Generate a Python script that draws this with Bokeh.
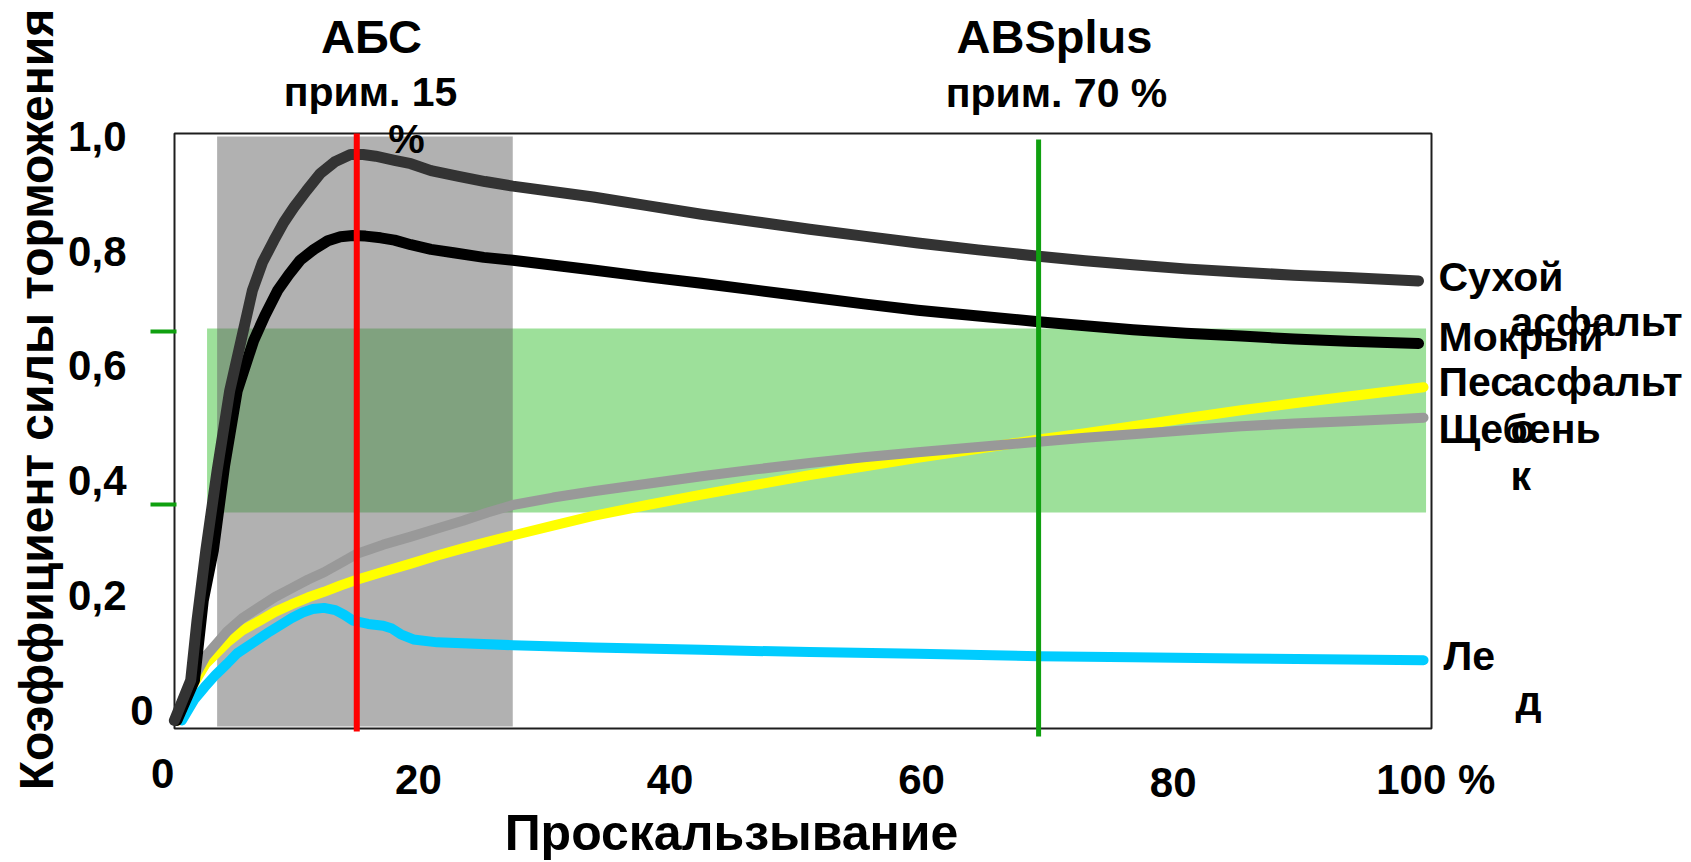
import math
from bokeh.plotting import figure
from bokeh.models import Range1d, Label
from bokeh.embed import file_html
from bokeh.resources import INLINE

# ---------------- data (slip in %, braking-force coefficient) ----------------
dry_x = [0.6, 1.9, 2.4, 3.1, 4.0, 5.0, 5.9, 6.8, 7.6, 8.5, 9.3, 10.1, 11.1, 12.2, 13.4,
         14.6, 15.6, 16.6, 18.1, 19.4, 21.0, 23.2, 25.3, 27.5, 33.9, 38.2, 42.5, 46.8,
         51.1, 55.4, 59.7, 64.5, 69.3, 73.0, 76.8, 81.0, 85.4, 89.6, 93.9, 99.5]
dry_y = [0.0, 0.070, 0.174, 0.296, 0.435, 0.574, 0.661, 0.748, 0.797, 0.835, 0.867, 0.893,
         0.922, 0.952, 0.973, 0.985, 0.985, 0.982, 0.975, 0.969, 0.957, 0.947, 0.938, 0.930,
         0.911, 0.896, 0.881, 0.868, 0.855, 0.843, 0.831, 0.819, 0.808, 0.800, 0.793, 0.786,
         0.780, 0.775, 0.771, 0.765]

wet_x = [0.8, 2.2, 2.9, 3.7, 4.6, 5.6, 6.9, 7.8, 8.8, 9.7, 10.6, 11.7, 12.8, 13.8, 14.8,
         15.8, 17.0, 18.1, 19.4, 21.0, 22.8, 25.2, 27.5, 33.9, 38.2, 42.5, 46.8, 51.1,
         55.4, 59.7, 64.5, 69.3, 73.0, 76.8, 81.0, 85.4, 89.6, 93.9, 99.5]
wet_y = [0.0, 0.070, 0.209, 0.296, 0.444, 0.574, 0.661, 0.705, 0.748, 0.776, 0.801, 0.820,
         0.835, 0.842, 0.844, 0.843, 0.840, 0.836, 0.828, 0.820, 0.814, 0.806, 0.801, 0.784,
         0.772, 0.761, 0.749, 0.737, 0.725, 0.714, 0.704, 0.694, 0.687, 0.680, 0.674, 0.669,
         0.664, 0.660, 0.656]

sand_x = [0.9, 1.8, 3.1, 4.8, 6.0, 7.4, 8.6, 9.9, 11.2, 12.5, 13.8, 15.1, 17.2, 19.4, 21.5,
          23.6, 25.5, 27.5, 30.7, 33.9, 38.2, 42.5, 46.8, 51.1, 55.4, 59.7, 64.5, 69.3,
          73.0, 76.8, 81.0, 85.4, 89.6, 93.9, 99.9]
sand_y = [0.0, 0.052, 0.099, 0.136, 0.157, 0.174, 0.189, 0.202, 0.214, 0.224, 0.235, 0.245,
          0.259, 0.273, 0.287, 0.300, 0.311, 0.322, 0.339, 0.356, 0.375, 0.393, 0.410, 0.427,
          0.442, 0.457, 0.473, 0.489, 0.500, 0.512, 0.526, 0.540, 0.552, 0.564, 0.580]

gravel_x = [0.8, 1.8, 3.1, 4.8, 6.0, 7.4, 8.6, 9.9, 11.2, 12.5, 13.8, 15.1, 17.2, 19.4,
            21.5, 23.6, 25.5, 27.5, 30.7, 33.9, 38.2, 42.5, 46.8, 51.1, 55.4, 59.7, 64.5,
            69.3, 73.0, 76.8, 81.0, 85.4, 89.6, 93.9, 99.9]
gravel_y = [0.0, 0.061, 0.112, 0.155, 0.178, 0.198, 0.215, 0.230, 0.245, 0.258, 0.274,
            0.290, 0.306, 0.320, 0.334, 0.348, 0.362, 0.375, 0.388, 0.399, 0.412, 0.425,
            0.437, 0.448, 0.458, 0.467, 0.476, 0.485, 0.492, 0.498, 0.505, 0.512, 0.517,
            0.521, 0.527]

ice_x = [1.2, 2.2, 3.0, 3.9, 4.8, 5.6, 6.9, 8.2, 9.1, 9.9, 10.8, 11.6, 12.5, 13.4, 14.1,
         14.8, 16.0, 17.2, 17.9, 18.6, 19.6, 21.5, 27.5, 33.9, 42.5, 51.1, 59.7, 69.3, 76.8,
         85.4, 93.9, 99.9]
ice_y = [0.0, 0.037, 0.058, 0.080, 0.099, 0.117, 0.136, 0.155, 0.167, 0.178, 0.188, 0.194,
         0.196, 0.192, 0.184, 0.174, 0.168, 0.165, 0.160, 0.150, 0.141, 0.136, 0.131, 0.127,
         0.123, 0.119, 0.116, 0.112, 0.110, 0.108, 0.106, 0.105]

abs_slip = 15.1            # ABS, approx. 15 %
absplus_slip = 69.3        # ABSplus, approx. 70 %
abs_zone_slip = [4.0, 27.5]          # grey ABS working range
band_slip = [3.2, 100.1]             # green band
band_mu = [0.362, 0.682]
band_marks_mu = [0.376, 0.677]

x_tick_values = [0, 20, 40, 60, 80, 100]
x_tick_labels = ["0", "20", "40", "60", "80", "100 %"]
y_tick_values = [0, 0.2, 0.4, 0.6, 0.8, 1.0]
y_tick_labels = ["0", "0,2", "0,4", "0,6", "0,8", "1,0"]

# ---------------- layout (pixels of the 1691x862 picture) ----------------
W, H = 1691, 862
PX_X0, PX_PER_X = 166.3, 12.58     # pixel column of 0 %, pixels per 1 %
PX_Y0, PX_PER_Y = 720.0, 574.6     # pixel row of coefficient 0, pixels per 1.0
FRAME = dict(left=174, right=1431, top=133, bottom=728)
FONT = "Liberation Sans"
BASE_FIX = 0.4                     # Bokeh draws alphabetic labels ~0.4 em low


def xr(px):
    return (px - PX_X0) / PX_PER_X


def yr(py):
    return (PX_Y0 - py) / PX_PER_Y


p = figure(width=W, height=H,
           x_range=Range1d(xr(0), xr(W)), y_range=Range1d(yr(H), yr(0)),
           output_backend="svg", toolbar_location=None,
           x_axis_location=None, y_axis_location=None, min_border=0)
p.grid.visible = False
p.outline_line_color = None
p.background_fill_color = "white"
p.border_fill_color = "white"
p.extra_x_ranges = {"px": Range1d(0, W)}
p.extra_y_ranges = {"px": Range1d(H, 0)}

# green band and grey ABS zone
p.quad(left=band_slip[0], right=band_slip[1], bottom=band_mu[0], top=band_mu[1],
       fill_color="#9DE09A", line_color=None)
p.quad(left=abs_zone_slip[0], right=abs_zone_slip[1], top=136, bottom=726,
       y_range_name="px", fill_color="#646464", fill_alpha=0.5, line_color=None)

# frame
p.quad(left=FRAME["left"], right=FRAME["right"], top=FRAME["top"], bottom=FRAME["bottom"],
       x_range_name="px", y_range_name="px", fill_color=None,
       line_color="#1e1e1e", line_width=2)

# green markers of the band on the left
p.segment(x0=[150] * 2, x1=[FRAME["left"] + 2] * 2, y0=band_marks_mu, y1=band_marks_mu,
          x_range_name="px", line_color="#0FA00F", line_width=4)

# curves
style = dict(line_cap="round", line_join="round")
p.line(sand_x, sand_y, line_color="#FFFF00", line_width=10, **style)
p.line(gravel_x, gravel_y, line_color="#999999", line_width=10, **style)
p.line(ice_x, ice_y, line_color="#00CCFF", line_width=10, **style)
p.line(wet_x, wet_y, line_color="#000000", line_width=11, **style)
p.line(dry_x, dry_y, line_color="#333333", line_width=11, **style)

# ABS / ABSplus lines
p.segment(x0=[abs_slip], x1=[abs_slip], y0=[133], y1=[731], y_range_name="px",
          line_color="#FF0000", line_width=6)
p.segment(x0=[absplus_slip], x1=[absplus_slip], y0=[139], y1=[736], y_range_name="px",
          line_color="#10A010", line_width=5)


def label(text, x, y, size, align="center", angle=0.0, x_px=True, y_px=True, y_offset=0):
    kw = {}
    if x_px:
        kw["x_range_name"] = "px"
    if y_px:
        kw["y_range_name"] = "px"
    if angle:
        xo, yo = -BASE_FIX * size, y_offset
    else:
        xo, yo = 0, y_offset + BASE_FIX * size
    p.add_layout(Label(x=x, y=y, text=text, text_font=FONT, text_font_style="bold",
                       text_font_size=f"{size}px", text_color="black",
                       text_align=align, text_baseline="alphabetic", angle=angle,
                       x_offset=xo, y_offset=yo, **kw))


# x tick labels (x tied to data)
x_label_shift = {"0": -4, "100 %": 11}
for v, t in zip(x_tick_values, x_tick_labels):
    px = PX_X0 + v * PX_PER_X + x_label_shift.get(t, 0)
    label(t, px, 790 if t == "0" else (799 if t == "80" else 796), 42)

# y tick labels (y tied to data)
for v, t in zip(y_tick_values, y_tick_labels):
    label(t, 153 if t == "0" else 126, v, 42, align="right", y_px=False, y_offset=-7)

# axis titles
label("Проскальзывание", 731, 852, 50)
label("Коэффициент силы торможения", 55, 399, 48, angle=math.pi / 2)

# headers
label("АБС", 371, 55, 47)
label("прим. 15", 370, 108, 41)
label("%", 406, 155, 41)
label("ABSplus", 1054, 55, 47)
label("прим. 70 %", 1056, 109, 41)

# curve names (wrapped as in the picture)
curve_names = [
    ("Сухой", 1438, 293), ("асфальт", 1510, 338),
    ("Мокрый", 1438, 353), ("асфальт", 1510, 398),
    ("Пес", 1438, 398), ("о", 1510, 445), ("к", 1510, 492),
    ("Щебень", 1438, 445),
    ("Ле", 1443, 672), ("д", 1515, 717),
]
for t, x, y in curve_names:
    label(t, x, y, 41, align="left")

open("out.html", "w").write(file_html(p, INLINE))
